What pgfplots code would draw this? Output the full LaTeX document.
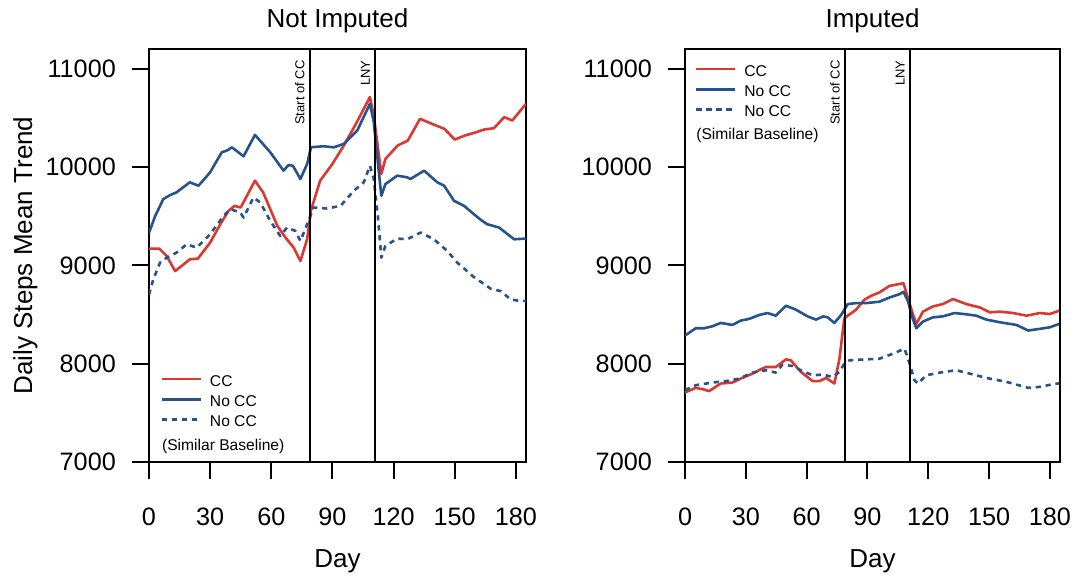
\documentclass[border=0pt]{standalone}
\usepackage{fontspec}
\setmainfont{Liberation Sans}
\usepackage{pgfplots}
\pgfplotsset{compat=1.18}

\definecolor{ccred}{RGB}{218,56,48}
\definecolor{noccblue}{RGB}{38,82,142}

\tikzset{
  eventlabel/.style={rotate=90, anchor=south east, inner sep=0pt,
                     font=\fontsize{6.5}{7}\selectfont},
  legendnote/.style={anchor=west, inner sep=0pt, font=\fontsize{7.8}{9}\selectfont},
}

\pgfplotsset{
  every axis title/.style={at={(axis description cs:0.5,1)}, anchor=base,
                           inner sep=0pt, yshift=11pt,
                           font=\fontsize{13}{15}\selectfont},
  trendpanel/.style={
    scale only axis, height=206.5pt,
    xmin=0, xmax=185, ymin=7000, ymax=11200,
    xtick={0,30,...,180}, ytick={7000,8000,...,11000},
    scaled y ticks=false,
    xtick pos=left, ytick pos=left,
    tick align=outside, major tick length=8.5pt,
    every tick/.style={black, line width=1pt},
    axis line style={line width=1pt},
    /pgf/number format/assume math mode=true,
    /pgf/number format/1000 sep={},
    ticklabel style={font=\fontsize{12.6}{14}\selectfont},
    xticklabel style={anchor=north, inner sep=0pt, yshift=-14.5pt},
    yticklabel style={anchor=east, inner sep=0pt, xshift=-7.9pt},
    xlabel style={at={(axis description cs:0.5,0)}, anchor=base, inner sep=0pt,
                  yshift=-52.5pt, font=\fontsize{13}{15}\selectfont},
    ylabel style={at={(axis description cs:-0.3103,0.5)}, anchor=base,
                  inner sep=0pt, font=\fontsize{13}{15}\selectfont},
    xlabel={Day},
    legend image code/.code={\draw[#1] (0pt,0.8pt) -- (19.5pt,0.8pt);},
    legend style={draw=none, fill=none, inner sep=0pt, outer sep=0pt,
                  font=\fontsize{7.8}{9}\selectfont,
                  row sep=4.5pt, column sep=3.85pt,
                  nodes={inner sep=0pt, text height=5.6pt, text depth=0pt}},
    legend cell align=left,
    cc/.style={ccred, line width=1.3pt, line join=round},
    nocc/.style={noccblue, line width=1.3pt, line join=round},
    simbase/.style={noccblue, line width=1.3pt, line join=round,
                    dash pattern=on 2.6pt off 2.4pt},
    event/.style={black, line width=1pt, forget plot},
  }
}

\begin{document}
\begin{tikzpicture}
\useasboundingbox (0,0) rectangle (537.5pt,289pt);

% ---------------- Not imputed ----------------
\begin{axis}[trendpanel, width=188.5pt, at={(74.5pt,58pt)}, anchor=south west,
  title={Not Imputed}, ylabel={Daily Steps Mean Trend},
  legend style={at={(0.031,0.2104)}, anchor=north west}]
\addplot[cc] coordinates {
(0,9170)(5,9170)(8.7,9095)(12.8,8942)(16,8993)(20,9061)(24,9068)(30,9231)
(35,9418)(39,9554)(42,9605)(45,9588)(52,9861)(56,9742)(63,9401)(67,9282)
(71,9180)(74.3,9044)(77.6,9265)(79.5,9560)(84,9861)(90,10031)(95.6,10218)
(102,10456)(108.4,10711)(110.3,10524)(114,9929)(116,10082)(122,10218)
(127,10269)(133,10490)(140,10429)(145,10388)(150,10279)(155,10320)
(159.5,10347)(164.4,10381)(169.3,10395)(174.3,10507)(178.3,10473)(185,10643)};
\addlegendentry{CC}
\addplot[nocc] coordinates {
(0,9330)(3,9500)(7,9673)(10.3,9714)(13.5,9742)(20,9844)(24.3,9810)(30,9946)
(35.7,10150)(38.2,10167)(40.7,10200)(46.4,10109)(52,10327)(59.5,10150)
(66,9963)(68.5,10020)(70.6,10013)(74.3,9878)(77.6,10031)(79.5,10201)
(85.7,10211)(90.7,10200)(95.6,10235)(102.2,10371)(108.4,10643)(110.3,10456)
(114,9707)(116,9826)(121.8,9912)(126.7,9895)(128.3,9878)(135,9963)
(141.5,9844)(144.8,9810)(149.7,9656)(154.6,9605)(160,9510)(163,9460)
(166,9418)(171.8,9384)(179.2,9265)(185,9272)};
\addlegendentry{No CC}
\addplot[simbase] coordinates {
(0,8700)(2,8850)(5.4,9027)(8.7,9078)(13.5,9129)(18.5,9214)(23.4,9180)
(30,9316)(36.6,9503)(39.9,9571)(44.8,9537)(46.4,9486)(51.3,9690)(54.6,9639)
(59.5,9452)(64.4,9299)(67.7,9384)(71.8,9350)(74.3,9248)(77.6,9418)
(80.8,9588)(87.4,9578)(94,9605)(100.5,9758)(105.4,9844)(108.4,10013)
(110.3,9878)(112.3,9503)(114,9078)(116,9197)(121.8,9272)(126.7,9265)
(133.3,9333)(139.8,9265)(146.4,9146)(151.3,9027)(159.5,8880)(167.7,8762)
(172.6,8738)(177.5,8653)(182.4,8636)(185,8640)};
\addlegendentry{No CC}
\addplot[event] coordinates {(79,7000)(79,11200)};
\addplot[event] coordinates {(111,7000)(111,11200)};
\node[eventlabel] at (axis cs:76.55,11088) {Start of CC};
\node[eventlabel] at (axis cs:108.55,11088) {LNY};
\node[legendnote] at (rel axis cs:0.0337,0.038) {(Similar Baseline)};
\end{axis}

% ---------------- Imputed ----------------
\begin{axis}[trendpanel, width=187.5pt, at={(342.5pt,58pt)}, anchor=south west,
  title={Imputed},
  legend style={at={(0.0267,0.961)}, anchor=north west}]
\addplot[cc] coordinates {
(0,7707)(5.3,7754)(8.6,7741)(11.9,7721)(17.6,7798)(23.4,7808)(27.5,7848)
(33.3,7899)(37.4,7943)(39.9,7966)(44.8,7966)(49.8,8044)(52.2,8034)
(57.2,7916)(63,7822)(66.3,7822)(69.6,7855)(73.7,7798)(76.2,8050)
(78.6,8461)(80.3,8488)(84.4,8549)(88.5,8650)(91.8,8690)(95.9,8724)
(100.9,8791)(107.8,8818)(109.9,8673)(112.4,8505)(114.1,8404)(117.4,8529)
(122.3,8582)(127.2,8606)(132.2,8657)(138.8,8606)(145.4,8572)(150.3,8522)
(155.3,8529)(161.9,8515)(168.5,8488)(175,8515)(180,8505)(184.6,8539)};
\addlegendentry{CC}
\addplot[nocc] coordinates {
(0,8286)(5.3,8360)(9.4,8360)(13.5,8380)(17.6,8414)(23.4,8394)(27.5,8438)
(31.6,8455)(36.6,8495)(40.7,8515)(44.8,8488)(49.8,8589)(54.7,8549)
(60.5,8481)(64.6,8448)(68.2,8481)(70.4,8471)(73.7,8414)(77,8495)
(80.3,8606)(84.4,8616)(89.3,8616)(95.9,8630)(100.9,8673)(105.8,8707)
(107.8,8731)(109.9,8640)(112.4,8455)(114.1,8360)(117.4,8428)(122.3,8471)
(127.2,8481)(133,8515)(138.8,8502)(143.7,8488)(148.7,8448)(155.3,8421)
(163.5,8394)(169.3,8337)(175,8354)(180,8370)(184.6,8404)};
\addlegendentry{No CC}
\addplot[simbase] coordinates {
(0,7731)(5.3,7781)(13.5,7808)(20.1,7822)(26.7,7848)(33.3,7909)(39.9,7933)
(44.8,7909)(48.1,7990)(53.1,7976)(58,7923)(63,7882)(67.9,7889)(72.9,7865)
(76.2,7916)(78.6,8000)(81.1,8034)(89.3,8044)(95.9,8050)(102.5,8101)
(108.3,8152)(110.8,8000)(113.2,7832)(114.9,7798)(119,7882)(125.6,7909)
(133.8,7933)(140.4,7899)(148.7,7855)(158.6,7815)(169.3,7754)(175,7764)
(180.8,7788)(184.6,7800)};
\addlegendentry{No CC}
\addplot[event] coordinates {(79,7000)(79,11200)};
\addplot[event] coordinates {(111,7000)(111,11200)};
\node[eventlabel] at (axis cs:76.53,11088) {Start of CC};
\node[eventlabel] at (axis cs:108.53,11088) {LNY};
\node[legendnote] at (rel axis cs:0.0293,0.791) {(Similar Baseline)};
\end{axis}
\end{tikzpicture}
\end{document}
